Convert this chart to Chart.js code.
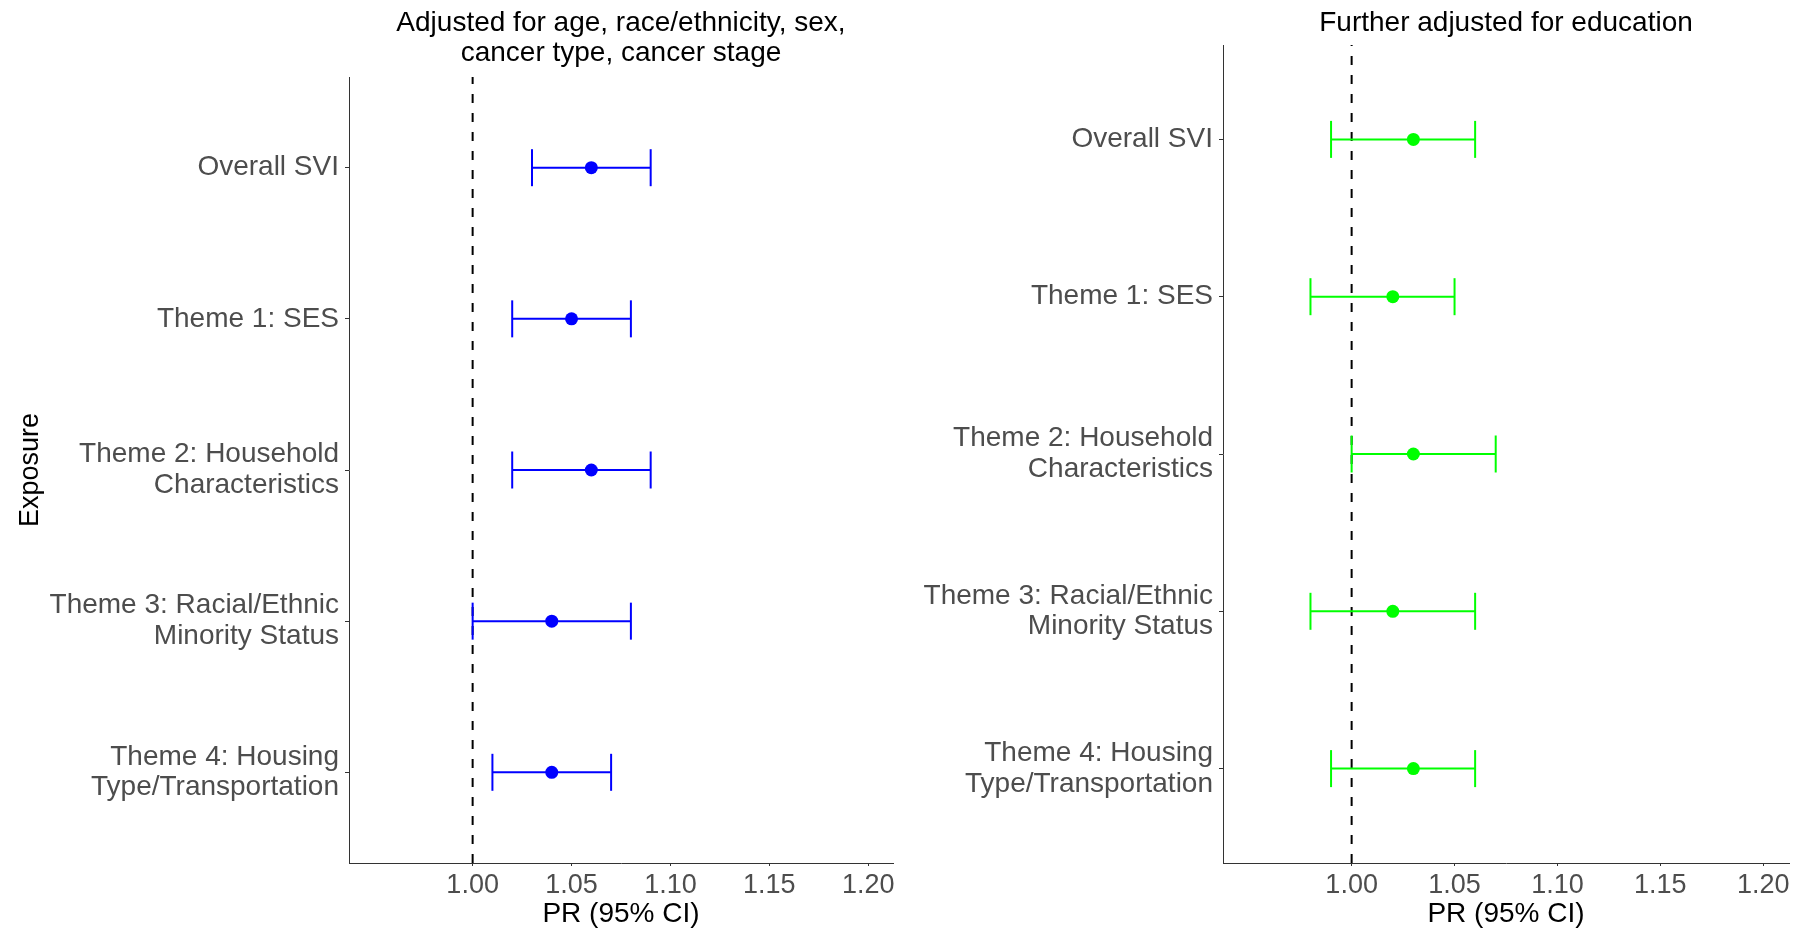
<!DOCTYPE html>
<html>
<head>
<meta charset="utf-8">
<title>Social vulnerability and PR</title>
<script src="https://cdn.jsdelivr.net/npm/chart.js@4/dist/chart.umd.min.js"></script>
<style>
  html, body { margin: 0; padding: 0; background: #fff; }
  #wrap { position: relative; width: 1795px; height: 931px; }
  canvas { position: absolute; top: 0; }
  #leftChart { left: 0; }
  #rightChart { left: 900px; }
</style>
</head>
<body>
<div id="wrap">
  <canvas id="leftChart" width="900" height="931"></canvas>
  <canvas id="rightChart" width="895" height="931"></canvas>
</div>
<script>
// exposures, top to bottom
const exposures = [
  'Overall SVI',
  'Theme 1: SES',
  ['Theme 2: Household', 'Characteristics'],
  ['Theme 3: Racial/Ethnic', 'Minority Status'],
  ['Theme 4: Housing', 'Type/Transportation']
];
const prBreaks = [1.00, 1.05, 1.10, 1.15, 1.20];
const prLimits = [0.95, 1.20];

// adjusted for age, race/ethnicity, sex, cancer type, cancer stage
const basePR   = [1.06, 1.05, 1.06, 1.04, 1.04];
const baseLow  = [1.03, 1.02, 1.02, 1.00, 1.01];
const baseHigh = [1.09, 1.08, 1.09, 1.08, 1.07];

// further adjusted for education
const eduPR   = [1.03, 1.02, 1.03, 1.02, 1.03];
const eduLow  = [0.99, 0.98, 1.00, 0.98, 0.99];
const eduHigh = [1.06, 1.05, 1.07, 1.06, 1.06];

Chart.defaults.font.family = '"Liberation Sans", Arial, sans-serif';
Chart.defaults.animation = false;

// ggplot-style 5% expansion of the x range, 0.6 on the discrete axis
const xPad = (prLimits[1] - prLimits[0]) * 0.05;
const xMin = prLimits[0] - xPad;
const xMax = prLimits[1] + xPad;
const yMin = 0.4;
const yMax = exposures.length + 0.6;

function forestChart(id, cfg) {
  const datasets = [];

  // null line at PR = 1
  datasets.push({
    data: [{ x: 1, y: yMax }, { x: 1, y: yMin }],
    showLine: true,
    borderColor: '#000',
    borderWidth: 2,
    borderDash: [9, 10],
    pointRadius: 0,
    order: 3
  });

  // confidence intervals with end caps
  exposures.forEach((_, i) => {
    datasets.push({
      data: [{ x: cfg.low[i], y: i + 1 }, { x: cfg.high[i], y: i + 1 }],
      showLine: true,
      borderColor: cfg.color,
      borderWidth: 2,
      pointStyle: 'line',
      rotation: 90,
      pointRadius: 18.5,
      pointBorderColor: cfg.color,
      pointBorderWidth: 2,
      order: 2
    });
  });

  // point estimates
  datasets.push({
    data: cfg.pr.map((v, i) => ({ x: v, y: i + 1 })),
    pointStyle: 'circle',
    pointRadius: 6.5,
    pointBackgroundColor: cfg.color,
    pointBorderColor: cfg.color,
    pointBorderWidth: 0,
    order: 1
  });

  return new Chart(document.getElementById(id), {
    type: 'scatter',
    data: { datasets: datasets },
    options: {
      responsive: false,
      events: [],
      layout: {
        autoPadding: false,
        padding: { left: 0, right: cfg.padRight, top: 0, bottom: 0 }
      },
      plugins: {
        legend: { display: false },
        tooltip: { enabled: false },
        title: {
          display: true,
          text: cfg.title,
          color: '#000',
          fullSize: false,
          font: { size: 28, weight: 'normal', lineHeight: '30px' },
          padding: cfg.titlePad
        }
      },
      scales: {
        x: {
          type: 'linear',
          min: xMin,
          max: xMax,
          bounds: 'data',
          afterBuildTicks: s => { s.ticks = prBreaks.map(v => ({ value: v })); },
          afterFit: s => {
            s.height = 68;
            s.paddingLeft = 0;
            s.paddingRight = 0;
          },
          grid: { display: true, drawOnChartArea: false, drawTicks: true, tickLength: 3, color: '#333' },
          border: { display: true, color: '#333', width: 1 },
          ticks: {
            color: '#4d4d4d',
            font: { size: 27 },
            padding: 3,
            maxRotation: 0,
            autoSkip: false,
            callback: v => v.toFixed(2)
          },
          title: {
            display: true,
            text: 'PR (95% CI)',
            color: '#000',
            font: { size: 28 },
            padding: { top: 0, bottom: 0 }
          }
        },
        y: {
          type: 'linear',
          reverse: true,
          min: yMin,
          max: yMax,
          bounds: 'data',
          afterBuildTicks: s => { s.ticks = exposures.map((_, i) => ({ value: i + 1 })); },
          afterFit: s => { s.width = cfg.yWidth; },
          grid: { display: true, drawOnChartArea: false, drawTicks: true, tickLength: 4, color: '#333' },
          border: { display: true, color: '#333', width: 1 },
          ticks: {
            color: '#4d4d4d',
            font: { size: 28, lineHeight: 1.1 },
            padding: 6,
            autoSkip: false,
            callback: v => exposures[Math.round(v) - 1]
          },
          title: {
            display: cfg.yTitle,
            text: 'Exposure',
            color: '#000',
            font: { size: 27 },
            padding: { top: 14, bottom: 0 }
          }
        }
      }
    }
  });
}

forestChart('leftChart', {
  title: ['Adjusted for age, race/ethnicity, sex,', 'cancer type, cancer stage'],
  titlePad: { top: 8, bottom: 9 },
  pr: basePR, low: baseLow, high: baseHigh,
  color: '#0000ff',
  yWidth: 349,
  padRight: 7,
  yTitle: true
});

forestChart('rightChart', {
  title: 'Further adjusted for education',
  titlePad: { top: 8, bottom: 7 },
  pr: eduPR, low: eduLow, high: eduHigh,
  color: '#00ff00',
  yWidth: 323,
  padRight: 6,
  yTitle: false
});
</script>
</body>
</html>
